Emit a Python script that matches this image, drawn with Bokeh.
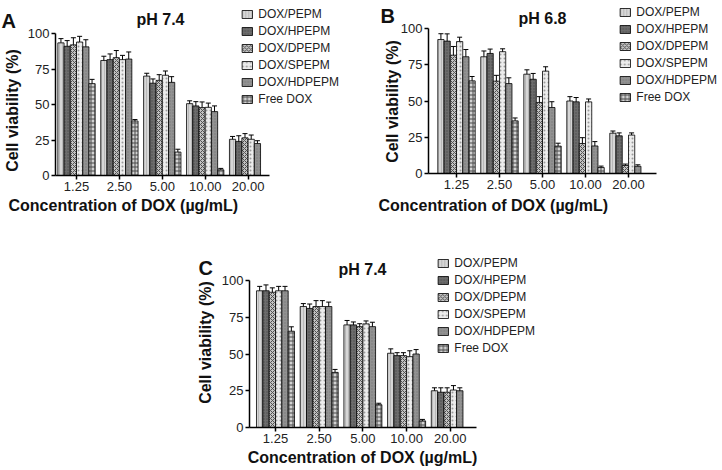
from bokeh.plotting import figure
from bokeh.models import (ColumnDataSource, Range1d, FixedTicker, Legend, LegendItem,
                          Label, Whisker, TeeHead, Spacer)
from bokeh.layouts import column, row
from bokeh.embed import file_html
from bokeh.resources import INLINE

FONT = "Liberation Sans"

concentrations = ["1.25", "2.50", "5.00", "10.00", "20.00"]
series_names = ["DOX/PEPM", "DOX/HPEPM", "DOX/DPEPM", "DOX/SPEPM", "DOX/HDPEPM", "Free DOX"]
y_ticks = [0, 25, 50, 75, 100]

# Panel A: pH 7.4
A_PEPM = [93.4, 81.0, 70.0, 50.6, 25.5]
A_HPEPM = [91.0, 81.6, 65.0, 49.0, 24.0]
A_DPEPM = [92.0, 83.0, 67.0, 47.8, 26.5]
A_SPEPM = [94.0, 81.6, 70.6, 48.0, 25.5]
A_HDPEPM = [90.6, 82.0, 65.6, 45.0, 22.5]
A_FREE = [64.7, 38.4, 16.5, 4.0, None]
A_PEPM_ERR = [3, 3, 2, 2, 2]
A_HPEPM_ERR = [4, 4, 3, 3, 4]
A_DPEPM_ERR = [5, 5, 4, 4, 3]
A_SPEPM_ERR = [4, 3, 3, 3, 3]
A_HDPEPM_ERR = [5, 5, 4, 4, 2]
A_FREE_ERR = [3, 1, 2, 1, None]

# Panel B: pH 6.8
B_PEPM = [92.4, 80.5, 68.5, 50.0, 27.8]
B_HPEPM = [91.3, 82.8, 65.0, 49.4, 26.0]
B_DPEPM = [81.6, 63.7, 49.0, 20.7, 5.5]
B_SPEPM = [91.0, 84.0, 70.6, 49.4, 26.5]
B_HDPEPM = [80.5, 62.0, 45.5, 19.0, 5.0]
B_FREE = [63.9, 36.3, 18.9, 4.1, None]
B_PEPM_ERR = [4, 4, 3, 3, 1.5]
B_HPEPM_ERR = [5, 3, 4, 3, 2]
B_DPEPM_ERR = [6, 4, 4, 4, 1]
B_SPEPM_ERR = [3, 2, 3, 2, 1.5]
B_HDPEPM_ERR = [5, 4, 4, 3, 1]
B_FREE_ERR = [3, 2, 2, 1, None]

# Panel C: pH 7.4
C_PEPM = [93.0, 82.3, 69.8, 50.5, 25.0]
C_HPEPM = [93.0, 81.0, 69.8, 48.9, 24.0]
C_DPEPM = [92.0, 82.3, 68.6, 48.9, 24.0]
C_SPEPM = [93.0, 82.3, 70.5, 48.2, 25.5]
C_HDPEPM = [93.0, 82.3, 68.6, 50.0, 25.0]
C_FREE = [65.5, 37.5, 15.5, 4.5, None]
C_PEPM_ERR = [3, 2, 3, 3, 2]
C_HPEPM_ERR = [4, 3, 2, 2, 3]
C_DPEPM_ERR = [3, 4, 2, 2, 3]
C_SPEPM_ERR = [3, 4, 2, 4, 3]
C_HDPEPM_ERR = [3, 3, 3, 3, 2]
C_FREE_ERR = [3, 2, 1, 1, None]

STYLES = [
    dict(fill_color="#d6d6d6", hatch_pattern="vertical_line", hatch_color="#b8b8b8", hatch_scale=3),
    dict(fill_color="#6c6c6c", hatch_pattern="dot", hatch_color="#4a4a4a", hatch_scale=3),
    dict(fill_color="#c4c4c4", hatch_pattern="diagonal_cross", hatch_color="#505050", hatch_scale=4),
    dict(fill_color="#ececec", hatch_pattern="dot", hatch_color="#9a9a9a", hatch_scale=4),
    dict(fill_color="#929292", hatch_pattern="dot", hatch_color="#777777", hatch_scale=3),
    dict(fill_color="#d2d2d2", hatch_pattern="cross", hatch_color="#4a4a4a", hatch_scale=4),
]

BAR_W = 0.145


def make_panel(fig, scale, axis_px, vals, errs, letter, letter_pos, title, title_pos,
               xlab_pos, xlab_align, ylab_pos, legend_margin):
    left, top, W, H = fig          # figure placement on the page (px)
    x0, xs, y0, ys = scale         # page px of x=0 / px per unit, page px of y=0 / px per unit

    def px2x(a):
        return (a - x0) / xs

    def px2y(a):
        return (y0 - a) / ys

    p = figure(width=W, height=H, output_backend="svg", toolbar_location=None, title=None,
               x_range=Range1d(px2x(left), px2x(left + W)),
               y_range=Range1d(px2y(top + H), px2y(top)),
               min_border=0, min_border_left=0, min_border_right=0,
               min_border_top=0, min_border_bottom=0)
    p.xgrid.visible = False
    p.ygrid.visible = False
    p.outline_line_color = None

    items = []
    n = len(vals)
    for j, (v, e) in enumerate(zip(vals, errs)):
        off = (j - (n - 1) / 2) * BAR_W
        xs_, tops, ups, los = [], [], [], []
        for i, val in enumerate(v):
            if val is None:
                continue
            xs_.append(i + off)
            tops.append(val)
            ups.append(val + e[i])
            los.append(val - e[i])
        src = ColumnDataSource(dict(x=xs_, top=tops, upper=ups, lower=los))
        r = p.vbar(x="x", top="top", width=BAR_W, source=src, line_color="black",
                   line_width=0.8, **STYLES[j])
        w = Whisker(source=src, base="x", upper="upper", lower="lower",
                    line_color="black", line_width=1,
                    upper_head=TeeHead(size=5, line_color="black", line_width=1),
                    lower_head=TeeHead(size=5, line_color="black", line_width=1))
        p.add_layout(w)
        items.append(LegendItem(label=series_names[j], renderers=[r]))
    leg = Legend(items=items, location="top_right", padding=0, margin=legend_margin, spacing=3,
                 glyph_width=13, glyph_height=10, label_height=14, label_standoff=5,
                 label_text_font=FONT, label_text_font_size="12px", label_text_color="#222222",
                 border_line_color=None, background_fill_alpha=0)
    p.add_layout(leg)

    ax_l, ax_r = axis_px
    xa, ya = p.xaxis[0], p.yaxis[0]
    xa.fixed_location = 0
    ya.fixed_location = px2x(ax_l)
    xa.bounds = (px2x(ax_l), px2x(ax_r))
    ya.bounds = (y_ticks[0], y_ticks[-1])
    for ax in (xa, ya):
        ax.axis_line_width = 1.5
        ax.axis_line_color = "black"
        ax.major_tick_line_width = 1.5
        ax.major_tick_out = 4
        ax.major_tick_in = 0
        ax.minor_tick_out = 0
        ax.minor_tick_in = 0
        ax.major_label_text_font = FONT
        ax.major_label_text_font_size = "13px"
        ax.major_label_text_color = "#222222"
        ax.major_label_standoff = 2
    xa.ticker = FixedTicker(ticks=list(range(len(concentrations))))
    xa.major_label_overrides = {i: c for i, c in enumerate(concentrations)}
    ya.ticker = FixedTicker(ticks=y_ticks)

    def lab(text, pos, size, align="left", baseline="alphabetic", angle=0):
        p.add_layout(Label(x=px2x(pos[0]), y=px2y(pos[1]), text=text, text_font=FONT,
                           text_font_size=size, text_font_style="bold", text_color="#111111",
                           text_align=align, text_baseline=baseline, angle=angle,
                           angle_units="deg"))

    lab(letter, letter_pos, "20px")
    lab(title, title_pos, "16px", align="center")
    lab("Concentration of DOX (µg/mL)", xlab_pos, "16px", align=xlab_align)
    lab("Cell viability (%)", ylab_pos, "16px", align="center", baseline="middle", angle=90)
    return p


pA = make_panel((0, 0, 346, 222), (76, 42.9, 175, 1.42), (55, 269),
                [A_PEPM, A_HPEPM, A_DPEPM, A_SPEPM, A_HDPEPM, A_FREE],
                [A_PEPM_ERR, A_HPEPM_ERR, A_DPEPM_ERR, A_SPEPM_ERR, A_HDPEPM_ERR, A_FREE_ERR],
                "A", (1, 20), "pH 7.4", (160, 19), (8, 205), "left", (12, 110), 7)
pB = make_panel((346, 0, 376, 222), (456, 43.0, 173, 1.45), (428, 656),
                [B_PEPM, B_HPEPM, B_DPEPM, B_SPEPM, B_HDPEPM, B_FREE],
                [B_PEPM_ERR, B_HPEPM_ERR, B_DPEPM_ERR, B_SPEPM_ERR, B_HDPEPM_ERR, B_FREE_ERR],
                "B", (380, 15), "pH 6.8", (542, 18), (378, 205), "left", (392, 101), 5)
pC = make_panel((190, 222, 379, 248), (275, 43.7, 427, 1.47), (249, 476),
                [C_PEPM, C_HPEPM, C_DPEPM, C_SPEPM, C_HDPEPM, C_FREE],
                [C_PEPM_ERR, C_HPEPM_ERR, C_DPEPM_ERR, C_SPEPM_ERR, C_HDPEPM_ERR, C_FREE_ERR],
                "C", (198, 267), "pH 7.4", (362, 269), (362, 457), "center", (205, 342), 34)

layout = column(row(pA, pB), row(Spacer(width=190, height=248), pC))
open("out.html", "w").write(file_html(layout, INLINE))
